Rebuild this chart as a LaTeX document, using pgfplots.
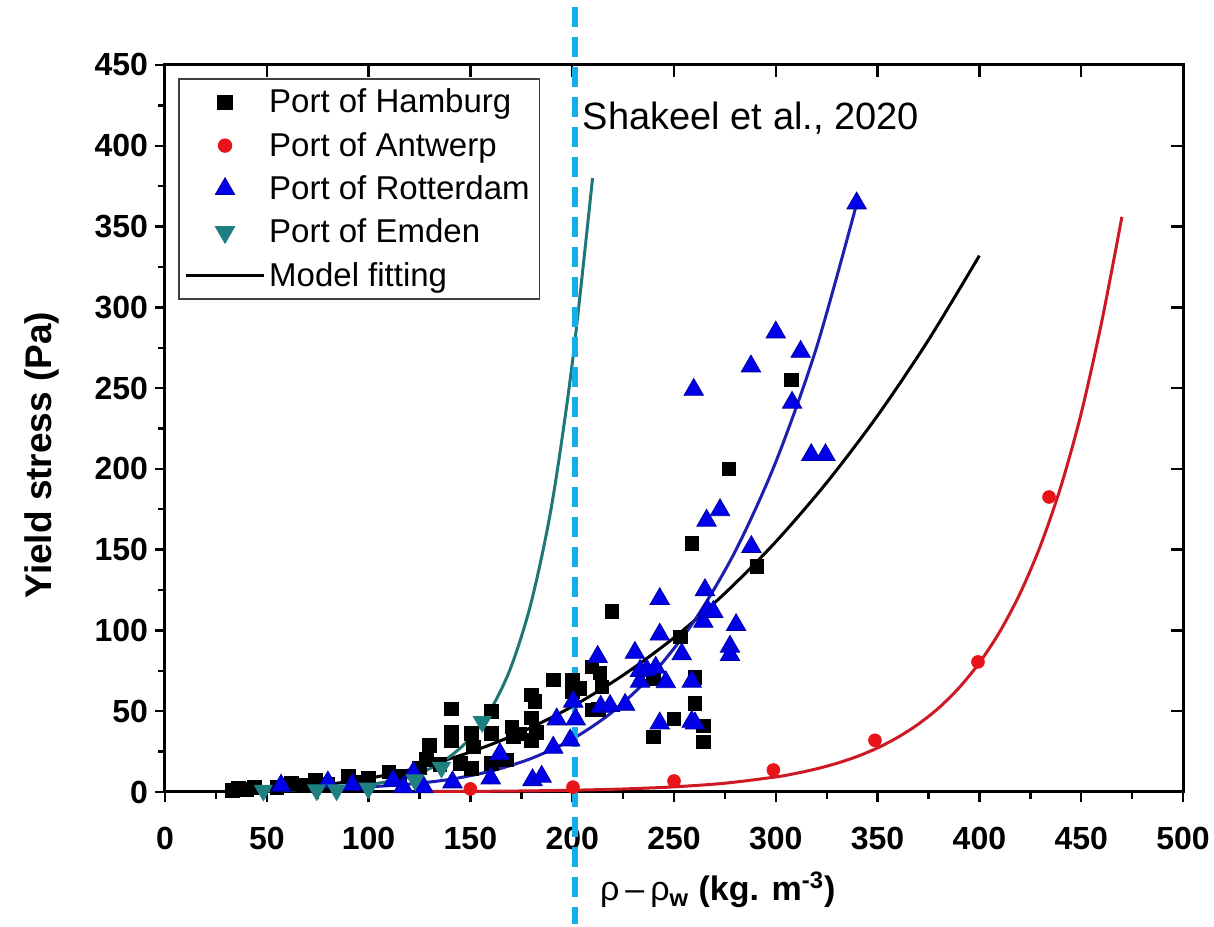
\documentclass[border=0pt]{standalone}
\usepackage{pgfplots}
\pgfplotsset{compat=1.18}
\usepackage{fontspec}
\setmainfont{Liberation Sans}
\definecolor{antred}{RGB}{232,20,25}
\definecolor{rotblue}{RGB}{0,0,235}
\definecolor{emteal}{RGB}{30,128,128}
\definecolor{fitteal}{RGB}{30,118,118}
\definecolor{fitblue}{RGB}{30,30,175}
\definecolor{fitred}{RGB}{205,25,35}
\definecolor{dashcyan}{RGB}{20,175,235}
\begin{document}
\begin{tikzpicture}
% overlay axis for inner ticks on top and right
\begin{axis}[width=509pt,height=363.5pt,scale only axis,
  xmin=0,xmax=500,ymin=0,ymax=450,
  xtick={0,50,...,500}, ytick={0,50,...,450},
  xtick pos=top, ytick pos=right, tick align=inside,
  xticklabels={}, yticklabels={},
  major tick length=6pt,
  axis line style={line width=1.5pt},
  every tick/.style={black,line width=1.2pt}]
\end{axis}
\begin{axis}[name=ax,width=509pt,height=363.5pt,scale only axis,
  xmin=0,xmax=500,ymin=0,ymax=450,clip=false,
  xtick={0,50,...,500}, ytick={0,50,...,450},
  minor x tick num=1, minor y tick num=1,
  xtick pos=bottom, ytick pos=left, tick align=outside,
  major tick length=5pt, minor tick length=3.5pt,
  axis line style={line width=1.5pt},
  every tick/.style={black,line width=1.2pt},
  /pgf/number format/assume math mode=true,
  tick label style={font=\fontsize{16}{19}\selectfont\bfseries},
  xticklabel style={yshift=-9pt},
  every axis y label/.style={at={(axis description cs:-0.1208,0.4635)},rotate=90,anchor=center},
  every axis x label/.style={at={(axis description cs:0.543,-0.1348)},anchor=center},
  ylabel={\fontsize{18.5}{22}\selectfont\bfseries Yield stress (Pa)},
  xlabel={\fontsize{17}{20}\selectfont ρ\hspace{3pt}–\hspace{3pt}ρ\textsubscript{\bfseries w} \bfseries (kg. m\textsuperscript{-3})},
  legend style={at={(0.0128,0.982)},anchor=north west,draw=black!75,line width=0.8pt,
    font=\fontsize{16.5}{19.8}\selectfont,cells={anchor=west},row sep=4.2pt,
    inner xsep=3pt,inner ysep=3pt},
  legend image code/.code={\draw[mark repeat=2,mark phase=2,#1] plot coordinates {(0cm,0cm) (0.68cm,0cm) (1.36cm,0cm)};}
]
% Port of Hamburg
\addplot[only marks,mark=square*,mark size=3.4pt,color=black] coordinates {
(33,1) (36,2.5) (40,1.5) (44,3) (55,3) (62,5.5) (68,4) (74,7.5) (80,5) (90,9.5) (95,6) (100,8.5)
(110,12.5) (115,10) (125,15) (128.5,20) (130,29) (135,17) (140.8,51.5) (140.8,37) (140.8,32)
(145,17.7) (150.6,36.3) (150.6,14.7) (151.4,28) (160.4,49.7) (160.4,36.3) (160.4,17.7)
(167.8,19.8) (170.3,40.4) (171,34) (174,36) (180,60) (181.7,56) (180,45.8) (182.5,37) (180,32)
(190.7,69.3) (200,69.3) (200,62) (203.8,64) (209.6,77.5) (213.6,73.6) (214.5,65) (209.6,50.8)
(213,51) (219.4,111.8) (239.8,70) (239.8,34.2) (250,45.3) (253,96) (258.8,154) (260.3,71)
(260.3,55) (264.4,40.8) (264.4,31.1) (277,200) (290.7,139.7) (307.8,255)};
\addlegendentry{Port of Hamburg}
% Port of Antwerp
\addplot[only marks,mark=*,mark size=3.2pt,color=antred] coordinates {
(150,1.9) (200.4,3) (250,6.8) (298.8,13.6) (348.7,32) (399.3,80.5) (434.2,182.6)};
\addlegendentry{Port of Antwerp}
% Port of Rotterdam
\addplot[only marks,mark=triangle*,mark size=5.6pt,color=rotblue,mark options={draw=rotblue!70!black,line width=0.4pt}] coordinates {
(57,4) (80,6) (92,4.5) (112,7) (117,3) (122,12) (127,3) (141.2,6) (160,8.5) (164.5,23.5)
(180.5,7.4) (185,9.5) (190.7,27.5) (192.4,45) (199,32) (200.5,56) (201.7,45) (212.5,83.7)
(214,52.8) (218.6,53.3) (226,54) (230.8,86.2) (233.3,75) (233.3,68.3) (236.6,75.5) (241,77)
(243,119.5) (243,97.5) (243,42.5) (246,68) (253.8,85.3) (258.7,68.3) (258.7,43.5) (260.3,42.5)
(259.7,249) (264.4,105.4) (265.2,125) (266.5,112.6) (266,168) (269.3,111.5) (272.6,174.5)
(277.5,90) (277.5,84.8) (280.5,103.4) (287.8,263.5) (288,151.7) (300,284.5) (308,241)
(312.2,272.5) (317.4,208.6) (324.4,208.6) (339.7,364.4)};
\addlegendentry{Port of Rotterdam}
% Port of Emden
\addplot[only marks,mark=triangle*,mark size=5.2pt,color=emteal,mark options={rotate=180}] coordinates {
(48.3,1) (74.5,1.2) (84.3,1.2) (99.9,2.3) (122.8,7.4) (135.8,15.2) (155.8,43.5)};
\addlegendentry{Port of Emden}
% Model fitting (global)
\addplot[black,line width=1.5pt,smooth] coordinates {
(30,0.35) (50,1.34) (75,3.93) (100,8.43) (125,15.2) (150,24.7) (175,37.1) (200,52.9)
(225,72.3) (250,95.5) (275,123) (300,154.9) (325,191.5) (350,233) (375,279.8) (400,332)};
\addlegendentry{Model fitting}
% Rotterdam fit
\addplot[fitblue,line width=1.5pt,smooth,forget plot] coordinates {
(55,2.1) (80,2.4) (100,3.2) (120,4.9) (140,7.8) (160,12.9) (180,20.8) (200,32.7) (220,49.8)
(240,73.7) (260,106) (280,148.8) (300,204.3) (320,275.1) (339.7,364)};
% Emden fit
\addplot[fitteal,line width=1.5pt,smooth,forget plot] coordinates {
(45,0.77) (50,0.89) (60,1.2) (70,1.65) (80,2.3) (90,3.2) (100,4.6) (110,6.6) (120,9.7)
(130,14.4) (140,22) (150,33.4) (160,51) (170,77.5) (180,118) (190,178) (200,265) (210,380)};
% Antwerp fit
\addplot[fitred,line width=1.5pt,smooth,forget plot] coordinates {
(130,0.3) (150,0.37) (175,0.63) (200,1.09) (225,1.86) (250,3.18) (275,5.44) (300,9.32)
(310,11.55) (320,14.33) (330,17.76) (340,22) (350,27.3) (360,33.9) (370,42) (380,52) (390,64.5)
(400,80) (410,99.2) (420,123) (430,152.5) (440,189) (450,234.4) (460,290.6) (470,356)};
\node[anchor=west,font=\fontsize{19}{22}\selectfont] at (axis cs:201.8,417) {Shakeel et al., 2020};
\draw[dashcyan,line width=2.6pt,dash pattern=on 10pt off 5pt] (axis cs:201.4,486) -- (axis cs:201.4,-82);
\end{axis}
\pgfresetboundingbox
\path ([shift={(-82.5pt,-67.5pt)}]ax.south west) rectangle ([shift={(15.5pt,32.5pt)}]ax.north east);
\end{tikzpicture}
\end{document}
